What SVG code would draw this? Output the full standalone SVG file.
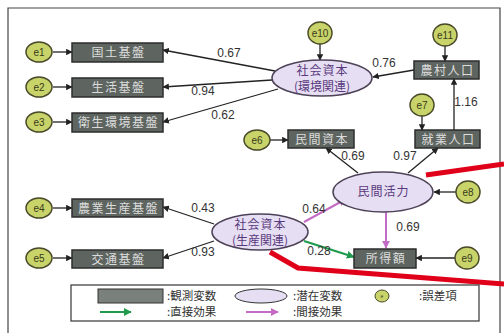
<svg xmlns="http://www.w3.org/2000/svg" width="504" height="333" viewBox="0 0 504 333">
<defs>
<marker id="ah" viewBox="0 0 10 10" refX="9" refY="5" markerWidth="5" markerHeight="5" orient="auto" markerUnits="strokeWidth"><path d="M0,0 L10,5 L0,10 z" fill="#222"/></marker>
<marker id="ahp" viewBox="0 0 10 10" refX="9" refY="5" markerWidth="4" markerHeight="4" orient="auto" markerUnits="strokeWidth"><path d="M0,0 L10,5 L0,10 z" fill="#c46cc4"/></marker>
<marker id="ahg" viewBox="0 0 10 10" refX="9" refY="5" markerWidth="4" markerHeight="4" orient="auto" markerUnits="strokeWidth"><path d="M0,0 L10,5 L0,10 z" fill="#1f9a4c"/></marker>
<style>
.obs{fill:#5e6560;stroke:#2c2c2c;stroke-width:1.5}
.obt{fill:#dcdcdc;font-family:"Noto Sans CJK JP",sans-serif;font-size:12px;letter-spacing:1.5px;text-anchor:middle}
.lat{fill:#e6def2;stroke:#4e4258;stroke-width:1.5}
.latt{fill:#5a3a7e;font-family:"Noto Sans CJK JP",sans-serif;font-size:12px;letter-spacing:1px;text-anchor:middle}
.latp{fill:#5a3a7e;font-family:"Noto Sans CJK JP",sans-serif;font-size:12px;text-anchor:middle}
.err{fill:#c8d46a;stroke:#4a4a2a;stroke-width:1.5}
.errt{fill:#3a3a1a;font-family:"Liberation Sans",sans-serif;font-size:10px;text-anchor:middle}
.c{stroke:#222;stroke-width:1.3;fill:none;marker-end:url(#ah)}
.cp{stroke:#c46cc4;stroke-width:2;fill:none;marker-end:url(#ahp)}
.cg{stroke:#1f9a4c;stroke-width:2;fill:none;marker-end:url(#ahg)}
.num{fill:#333;font-family:"Liberation Sans",sans-serif;font-size:12px;text-anchor:middle}
.lg{fill:#333;font-family:"Noto Sans CJK JP",sans-serif;font-size:11.5px}
.red{stroke:#e0001a;stroke-width:5;fill:none}
</style>
</defs>
<rect x="0" y="0" width="504" height="333" fill="#fff"/>
<path d="M8,340 V8 H500 V340" fill="none" stroke="#444" stroke-width="1.2"/>

<g id="connectors">
<line class="c" x1="53" y1="52" x2="72" y2="52"/>
<line class="c" x1="53" y1="87" x2="72" y2="87"/>
<line class="c" x1="53" y1="122" x2="72" y2="122"/>
<line class="c" x1="53" y1="208" x2="72" y2="208"/>
<line class="c" x1="53" y1="258" x2="72" y2="258"/>
<line class="c" x1="275" y1="71" x2="163" y2="50"/>
<line class="c" x1="272" y1="80" x2="163" y2="87"/>
<line class="c" x1="278" y1="89" x2="163" y2="122"/>
<line class="c" x1="320" y1="44" x2="320" y2="60"/>
<line class="c" x1="445" y1="46" x2="445" y2="61"/>
<line class="c" x1="414" y1="70" x2="373" y2="77"/>
<line class="c" x1="422" y1="116" x2="422" y2="130"/>
<line class="c" x1="454" y1="130" x2="454" y2="79"/>
<line class="c" x1="270" y1="140" x2="288" y2="140"/>
<line class="c" x1="358" y1="173" x2="326" y2="148"/>
<line class="c" x1="408" y1="173" x2="438" y2="148"/>
<line class="c" x1="456" y1="192" x2="434" y2="192"/>
<line class="cp" x1="386" y1="212" x2="386" y2="248"/>
<line class="c" x1="455" y1="258" x2="416" y2="258"/>
<line class="cp" x1="304" y1="222" x2="346" y2="199"/>
<line class="cg" x1="304" y1="241" x2="354" y2="257"/>
<line class="c" x1="214" y1="224" x2="163" y2="207"/>
<line class="c" x1="214" y1="241" x2="163" y2="258"/>
</g>

<g id="labels">
<text class="num" x="229" y="57">0.67</text>
<text class="num" x="203" y="95">0.94</text>
<text class="num" x="223" y="119">0.62</text>
<text class="num" x="384" y="67">0.76</text>
<text class="num" x="466" y="106">1.16</text>
<text class="num" x="353" y="160">0.69</text>
<text class="num" x="405" y="160">0.97</text>
<text class="num" x="408" y="231">0.69</text>
<text class="num" x="314" y="213">0.64</text>
<text class="num" x="319" y="255">0.28</text>
<text class="num" x="203" y="212">0.43</text>
<text class="num" x="203" y="256">0.93</text>
</g>

<g id="n1"><rect class="obs" x="72" y="43" width="91" height="19"/><text class="obt" x="118.5" y="57">国土基盤</text></g>
<g id="n2"><rect class="obs" x="72" y="78" width="91" height="19"/><text class="obt" x="118.5" y="92">生活基盤</text></g>
<g id="n3"><rect class="obs" x="72" y="113" width="91" height="19"/><text class="obt" x="118.5" y="127">衛生環境基盤</text></g>
<g id="n4"><rect class="obs" x="72" y="199" width="91" height="18"/><text class="obt" x="118.5" y="212.5">農業生産基盤</text></g>
<g id="n5"><rect class="obs" x="72" y="250" width="91" height="18"/><text class="obt" x="118.5" y="263.5">交通基盤</text></g>
<g id="n6"><rect class="obs" x="414" y="61" width="65" height="18"/><text class="obt" x="447.5" y="74.5">農村人口</text></g>
<g id="n7"><rect class="obs" x="415" y="130" width="65" height="18"/><text class="obt" x="448.5" y="143.5">就業人口</text></g>
<g id="n8"><rect class="obs" x="288" y="130" width="66" height="18"/><text class="obt" x="322" y="143.5">民間資本</text></g>
<g id="n9"><rect class="obs" x="354" y="249" width="62" height="19"/><text class="obt" x="386" y="263">所得額</text></g>

<g id="l1"><ellipse class="lat" cx="322" cy="78" rx="50" ry="18"/><text class="latt" x="322.5" y="75">社会資本</text><text class="latp" x="322" y="91">(環境関連)</text></g>
<g id="l2"><ellipse class="lat" cx="383" cy="192" rx="50" ry="20"/><text class="latt" x="383.5" y="196">民間活力</text></g>
<g id="l3"><ellipse class="lat" cx="260" cy="232" rx="48" ry="18"/><text class="latt" x="260.5" y="229">社会資本</text><text class="latp" x="260" y="245">(生産関連)</text></g>

<g id="e1"><ellipse class="err" cx="39" cy="52" rx="13" ry="10"/><text class="errt" x="39" y="56">e1</text></g>
<g id="e2"><ellipse class="err" cx="39" cy="87" rx="13" ry="10"/><text class="errt" x="39" y="91">e2</text></g>
<g id="e3"><ellipse class="err" cx="39" cy="122" rx="13" ry="10"/><text class="errt" x="39" y="126">e3</text></g>
<g id="e4"><ellipse class="err" cx="39" cy="208" rx="13" ry="10"/><text class="errt" x="39" y="212">e4</text></g>
<g id="e5"><ellipse class="err" cx="39" cy="258" rx="13" ry="10"/><text class="errt" x="39" y="262">e5</text></g>
<g id="e6"><ellipse class="err" cx="257" cy="140" rx="13" ry="10"/><text class="errt" x="257" y="144">e6</text></g>
<g id="e7"><ellipse class="err" cx="422" cy="105" rx="12" ry="11"/><text class="errt" x="422" y="109">e7</text></g>
<g id="e8"><ellipse class="err" cx="468" cy="192" rx="12" ry="11"/><text class="errt" x="468" y="196">e8</text></g>
<g id="e9"><ellipse class="err" cx="467" cy="258" rx="12" ry="11"/><text class="errt" x="467" y="262">e9</text></g>
<g id="e10"><ellipse class="err" cx="320" cy="33" rx="12" ry="11"/><text class="errt" x="320" y="37">e10</text></g>
<g id="e11"><ellipse class="err" cx="445" cy="35" rx="12" ry="11"/><text class="errt" x="445" y="39">e11</text></g>

<g id="red">
<path class="red" d="M426,175 L504,164"/>
<path class="red" d="M270,252 L298,268 L504,284"/>
</g>

<g id="legend">
<rect x="71" y="285" width="408" height="36" fill="#fff" stroke="#444" stroke-width="1.3"/>
<rect x="98" y="289" width="65" height="14" fill="#7a807c" stroke="#333" stroke-width="1"/>
<text class="lg" x="167" y="300">:観測変数</text>
<ellipse cx="261" cy="296" rx="26" ry="7" fill="#e6def2" stroke="#333" stroke-width="1"/>
<text class="lg" x="293" y="300">:潜在変数</text>
<ellipse cx="382" cy="296" rx="7" ry="6" fill="#c8d46a" stroke="#4a4a2a" stroke-width="1"/>
<text x="382" y="298" fill="#3a3a1a" font-family="Liberation Sans,sans-serif" font-size="5" text-anchor="middle">e</text>
<text class="lg" x="419" y="300">:誤差項</text>
<line class="cg" x1="100" y1="312" x2="131" y2="312"/>
<text class="lg" x="167" y="316">:直接効果</text>
<line class="cp" x1="246" y1="312" x2="278" y2="312"/>
<text class="lg" x="293" y="316">:間接効果</text>
</g>
</svg>
